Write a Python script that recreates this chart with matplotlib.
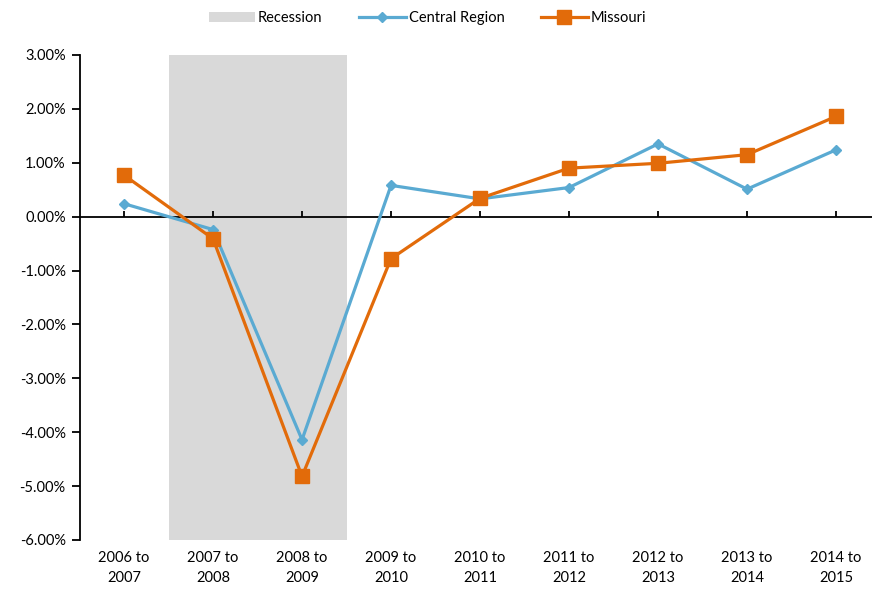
import matplotlib
matplotlib.use("Agg")
import matplotlib.pyplot as plt
from matplotlib.patches import Patch
from matplotlib.lines import Line2D
from matplotlib.ticker import FuncFormatter

# data (percent change)
periods = ["2006 to\n2007", "2007 to\n2008", "2008 to\n2009", "2009 to\n2010", "2010 to\n2011",
           "2011 to\n2012", "2012 to\n2013", "2013 to\n2014", "2014 to\n2015"]
central_region = [0.24, -0.24, -4.14, 0.58, 0.33, 0.54, 1.35, 0.51, 1.24]
missouri = [0.77, -0.41, -4.82, -0.78, 0.34, 0.90, 0.99, 1.15, 1.86]
recession_span = (0.5, 2.5)

BLUE = "#5AAAD2"
ORANGE = "#E26B0A"
GRAY = "#D9D9D9"

plt.rcParams['font.family'] = ['Lato', 'DejaVu Sans']
plt.rcParams['font.size'] = 10.5

fig = plt.figure(figsize=(8.72, 5.93), dpi=100)
ax = fig.add_axes([0.0912, 0.0894, 0.9186, 0.8179])

x = list(range(len(periods)))
ax.axvspan(*recession_span, color=GRAY, lw=0, zorder=0)
ax.plot(x, central_region, color=BLUE, lw=2.3, marker="D", ms=5, zorder=3)
ax.plot(x, missouri, color=ORANGE, lw=2.3, marker="s", ms=10, zorder=4)

ax.set_xlim(-0.5, len(periods) - 0.5)
ax.set_ylim(-6, 3)
ax.set_yticks(range(-6, 4))
ax.yaxis.set_major_formatter(FuncFormatter(lambda v, p: f"{v:.2f}%"))
ax.tick_params(axis="y", direction="out", length=6, width=1.3, colors="black", pad=4)

for s in ["top", "right"]:
    ax.spines[s].set_visible(False)
ax.spines["left"].set_linewidth(1.3)
ax.spines["bottom"].set_position(("data", 0))
ax.spines["bottom"].set_linewidth(1.3)
ax.set_xticks(x)
ax.tick_params(axis="x", direction="in", length=4, width=1.3, labelbottom=False)

sec = ax.secondary_xaxis("bottom")
sec.set_xticks(x)
sec.set_xticklabels(periods, linespacing=1.55)
sec.tick_params(length=0, pad=8)
sec.spines["bottom"].set_visible(False)

handles = [Patch(facecolor=GRAY, edgecolor="none"),
           Line2D([], [], color=BLUE, lw=2.3, marker="D", ms=5),
           Line2D([], [], color=ORANGE, lw=2.3, marker="s", ms=10)]
fig.legend(handles, ["Recession", "Central Region", "Missouri"], loc="center",
           bbox_to_anchor=(0.49, 0.97), ncol=3, frameon=False,
           handlelength=3.2, handletextpad=0.2, columnspacing=2.5)

fig.savefig("out.png", dpi=100)
